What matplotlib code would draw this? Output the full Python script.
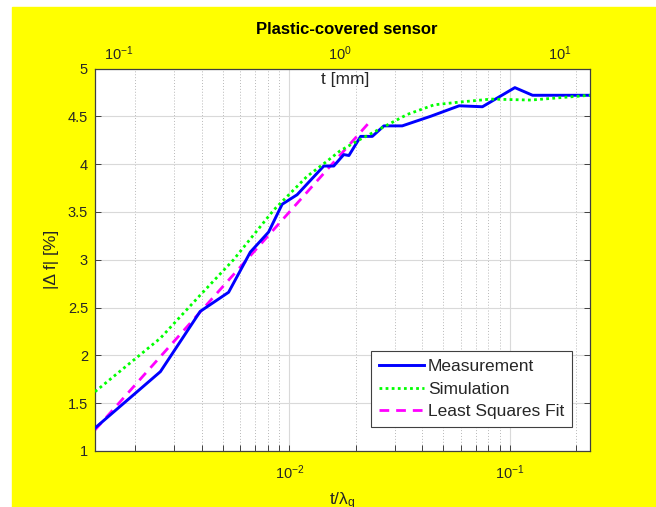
import numpy as np
import matplotlib
matplotlib.use("Agg")
import matplotlib.pyplot as plt
from matplotlib.patches import Rectangle
from matplotlib.ticker import LogLocator, NullLocator, FixedLocator, FixedFormatter

plt.rcParams['font.family'] = ['Liberation Sans', 'DejaVu Sans']
plt.rcParams['mathtext.default'] = 'regular'

# ---- data ----
meas_x = [0.001313, 0.00260, 0.00394, 0.00530, 0.00665, 0.00805, 0.00927,
          0.01084, 0.01432, 0.01589, 0.01765, 0.01862, 0.02105, 0.02377,
          0.02684, 0.0325, 0.0437, 0.0589, 0.0751, 0.1054, 0.1268, 0.231]
meas_y = [1.24, 1.83, 2.46, 2.66, 3.08, 3.29, 3.58,
          3.68, 3.98, 3.98, 4.10, 4.09, 4.29, 4.29,
          4.40, 4.40, 4.50, 4.61, 4.60, 4.80, 4.72, 4.72]

sim_x = [0.001313, 0.0026, 0.00394, 0.00558, 0.00849, 0.0120, 0.0148,
         0.0170, 0.021, 0.0268, 0.0343, 0.0453, 0.0598, 0.082, 0.1245, 0.231]
sim_y = [1.62, 2.18, 2.63, 3.00, 3.52, 3.87, 4.03,
         4.14, 4.26, 4.39, 4.52, 4.62, 4.65, 4.68, 4.67, 4.72]

fit_x = [0.001313, 0.0229]
fit_y = [1.22, 4.43]

lam_g = 59.3            # mm, t/lambda_g -> t [mm]
x_lim = (0.001313, 0.231)
y_ticks = [1, 1.5, 2, 2.5, 3, 3.5, 4, 4.5, 5]
top_ticks = [0.1, 1, 10]
top_labels = [r'$10^{-1}$', r'$10^{0}$', r'$10^{1}$']

txt = '#262626'
W, H = 656, 507
fig = plt.figure(figsize=(W / 100, H / 100), dpi=100, facecolor='white')
fig.patches.append(Rectangle((12 / W, 0), 1, 1 - 7 / H, transform=fig.transFigure,
                             color='#ffff00', zorder=-10))

ax = fig.add_axes([95 / W, 1 - 451 / H, 495 / W, 382.5 / H])
ax.set_xscale('log')
ax.set_xlim(*x_lim)
ax.set_ylim(1, 5)
ax.set_yticks(y_ticks)
ax.set_yticklabels([f"{v:g}" for v in y_ticks])

ax.plot(meas_x, meas_y, color='#0000ff', lw=2.1, label='Measurement', zorder=3)
ax.plot(sim_x, sim_y, color='#00ff00', lw=2.0, ls=(0, (1, 1.2)), label='Simulation', zorder=4)
ax.plot(fit_x, fit_y, color='#ff00ff', lw=2.0, ls=(0, (3.5, 2.5)), label='Least Squares Fit', zorder=2)

ax.xaxis.set_minor_locator(LogLocator(base=10, subs=np.arange(2, 10)))
ax.grid(True, which='major', color='#d9d9d9', lw=0.8, ls='-')
ax.grid(True, which='minor', axis='x', color='#b8b8b8', lw=0.7, ls=(0, (1, 2)))
ax.set_axisbelow(True)

ax.tick_params(which='both', direction='in', top=True, right=True, length=4,
               width=0.7, color='#404040', labelcolor=txt, labelsize=10.5)
ax.tick_params(axis='x', pad=9)
ax.tick_params(axis='y', pad=5)
for s in ax.spines.values():
    s.set_color('#404040')
    s.set_linewidth(0.9)

ax.set_xlabel(r't/$\lambda_g$', fontsize=12.5, color=txt, labelpad=6)
ax.set_ylabel('|Δ f| [%]', fontsize=12.5, color=txt, labelpad=6)

# top axis in mm
ax2 = ax.twiny()
ax2.set_xscale('log')
ax2.set_xlim(x_lim[0] * lam_g, x_lim[1] * lam_g)
ax2.xaxis.set_major_locator(FixedLocator(top_ticks))
ax2.xaxis.set_major_formatter(FixedFormatter(top_labels))
ax2.xaxis.set_minor_locator(NullLocator())
ax2.tick_params(axis='x', length=0, pad=4, labelcolor=txt, labelsize=10.5)
for s in ax2.spines.values():
    s.set_visible(False)
ax.text(0.505, 0.97, 't [mm]', transform=ax.transAxes, ha='center', va='center',
        fontsize=12.5, color=txt)

fig.text(347 / W, 1 - 30 / H, 'Plastic-covered sensor', ha='center', va='center',
         fontsize=12, fontweight='bold', color='black')

leg = ax.legend(loc='lower right', bbox_to_anchor=(0.964, 0.0627), borderaxespad=0,
                fontsize=12.5, handlelength=2.6, labelspacing=0.42, handletextpad=0.25,
                borderpad=0.45, fancybox=False, framealpha=1, edgecolor='#404040')
leg.get_frame().set_linewidth(0.8)
for t in leg.get_texts():
    t.set_color(txt)

fig.savefig('out.png', dpi=100)
